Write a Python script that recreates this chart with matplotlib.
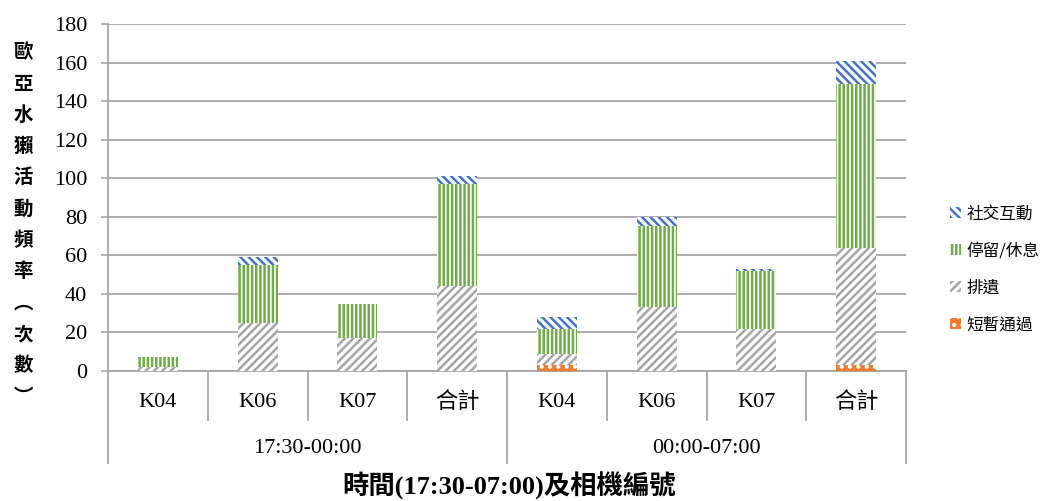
import matplotlib
matplotlib.use("Agg")
import matplotlib.pyplot as plt
import numpy as np

plt.rcParams['font.family'] = ['Liberation Serif', 'Noto Sans CJK TC']
plt.rcParams['hatch.linewidth'] = 1.8

# camera / period categories
cameras = ['K04', 'K06', 'K07', '合計', 'K04', 'K06', 'K07', '合計']
periods = ['17:30-00:00', '00:00-07:00']

# counts per behaviour (stack order bottom -> top)
passing = [0, 0, 0, 0, 3, 0, 0, 3]       # 短暫通過
scat = [2, 25, 17, 44, 6, 33, 22, 61]     # 排遺
resting = [5, 30, 18, 53, 13, 42, 30, 85]  # 停留/休息
social = [0, 4, 0, 4, 6, 5, 1, 12]        # 社交互動

series = [
    ('短暫通過', passing, '#ED7D31', 'solid'),
    ('排遺', scat, '#A5A5A5', '////'),
    ('停留/休息', resting, '#70AD47', '||||'),
    ('社交互動', social, '#4472C4', '\\\\\\\\'),
]

grid_c = '#A6A6A6'

fig = plt.figure(figsize=(10.56, 5.01), dpi=100)
ax = fig.add_axes([0.1023, 0.2595, 0.7557, 0.6925])

x = np.arange(len(cameras))
bottom = np.zeros(len(cameras))
handles = []
for name, vals, col, hatch in series:
    vals = np.array(vals, dtype=float)
    if hatch == 'solid':
        b = ax.bar(x, vals, 0.4, bottom=bottom, facecolor=col, edgecolor='white',
                   hatch='..', linewidth=0, label=name, zorder=3)
    else:
        b = ax.bar(x, vals, 0.4, bottom=bottom, facecolor='white', edgecolor=col,
                   hatch=hatch, linewidth=0, label=name, zorder=3)
    handles.append(b)
    bottom += vals

ax.set_xlim(-0.5, len(cameras) - 0.5)
ax.set_ylim(0, 180)
ax.set_yticks(np.arange(0, 181, 20))
ax.yaxis.grid(True, color=grid_c, linewidth=1.3, zorder=0)
ax.set_axisbelow(True)
ax.tick_params(axis='y', length=5, width=1.2, color=grid_c, pad=10, labelsize=16)
ax.set_xticks([])
for s in ['top', 'right']:
    ax.spines[s].set_visible(False)
for s in ['left', 'bottom']:
    ax.spines[s].set_color(grid_c)
    ax.spines[s].set_linewidth(1.3)

# two-level category axis
tr = ax.get_xaxis_transform()
for xs in [0.5, 1.5, 2.5, 4.5, 5.5, 6.5]:
    ax.plot([xs, xs], [0, -0.141], transform=tr, color=grid_c, lw=1.3, clip_on=False)
for xs in [-0.5, 3.5, 7.5]:
    ax.plot([xs, xs], [0, -0.265], transform=tr, color=grid_c, lw=1.3, clip_on=False)
for i, lab in enumerate(cameras):
    ax.text(i, -0.09, lab, transform=tr, ha='center', va='center', fontsize=16)
for j, lab in enumerate(periods):
    ax.text(1.5 + 4 * j, -0.222, lab, transform=tr, ha='center', va='center', fontsize=16)

fig.text(0.482, 0.03, '時間(17:30-07:00)及相機編號', ha='center', va='center',
         fontsize=19, fontweight='bold')
fig.text(0.022, 0.551, '\n'.join('歐亞水獺活動頻率︵次數︶'), ha='center', va='center',
         fontsize=14, fontweight='bold', linespacing=1.82,
         family=['Noto Sans CJK TC', 'DejaVu Sans'])

leg = ax.legend(handles[::-1], [s[0] for s in series][::-1], loc='upper left',
                bbox_to_anchor=(0.885, 0.62), bbox_transform=fig.transFigure,
                frameon=False, handlelength=0.7, handleheight=0.7, handletextpad=0.3,
                labelspacing=1.2, prop={'family': 'Noto Sans CJK TC', 'size': 12})

fig.savefig('out.png', dpi=100)
